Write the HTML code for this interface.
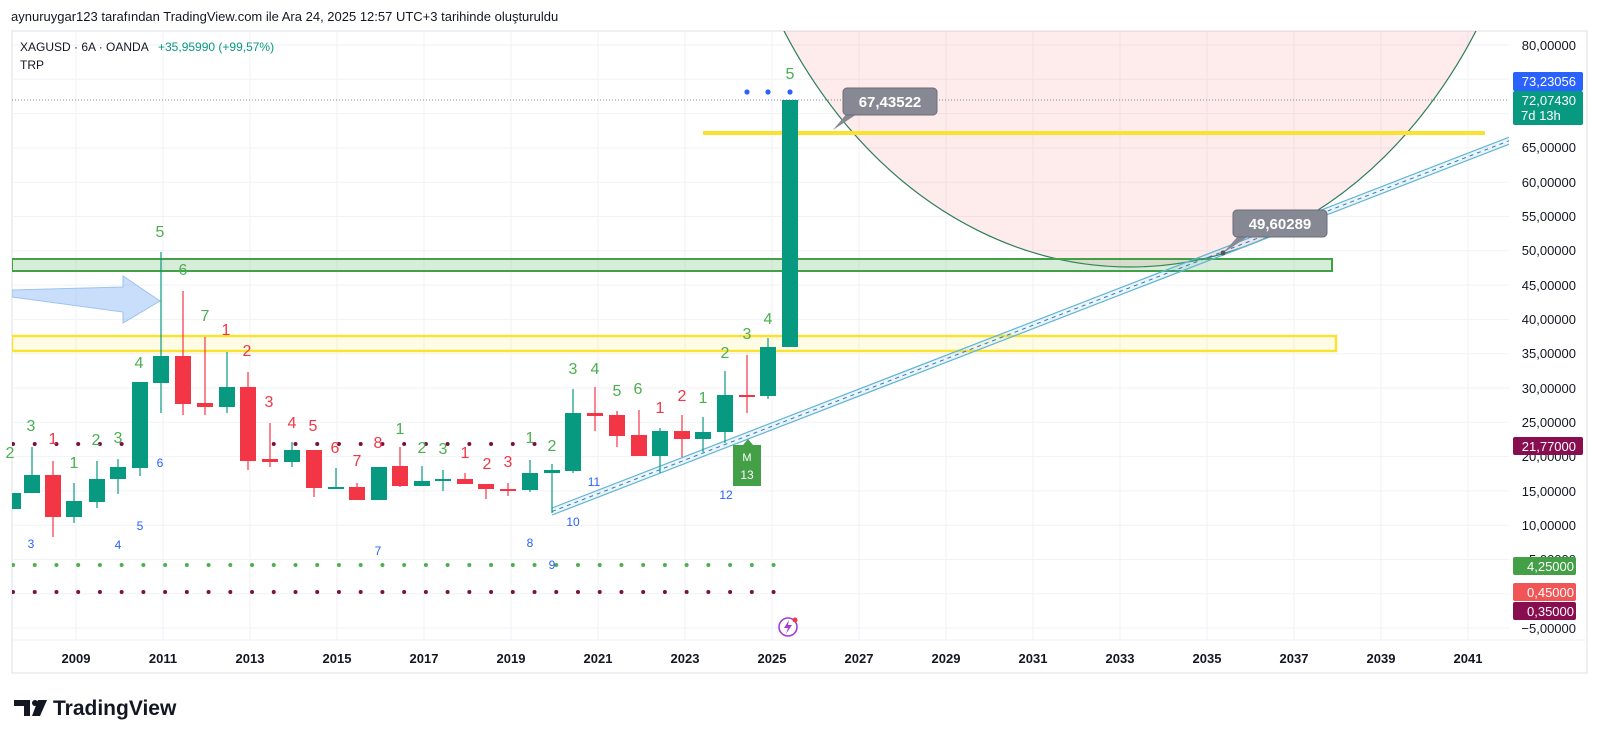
<!DOCTYPE html>
<html><head><meta charset="utf-8">
<style>
html,body{margin:0;padding:0;background:#fff;}
body{width:1600px;height:741px;overflow:hidden;font-family:"Liberation Sans",sans-serif;}
svg text{font-family:"Liberation Sans",sans-serif;}
</style></head><body>
<svg id="s" width="1600" height="741" viewBox="0 0 1600 741" xmlns="http://www.w3.org/2000/svg">
<defs>
<clipPath id="pc"><rect x="12" y="31" width="1497" height="609"/></clipPath>
</defs>
<rect x="0" y="0" width="1600" height="741" fill="#fff"/>
<text x="11" y="21" font-size="13" fill="#131722">aynuruygar123 tarafından TradingView.com ile Ara 24, 2025 12:57 UTC+3 tarihinde oluşturuldu</text>
<rect x="12" y="31" width="1575" height="642" fill="none" stroke="#e8eaef" stroke-width="1.5"/>
<g id="grid" stroke="#f0f2f6" stroke-width="1"></g>
<g clip-path="url(#pc)">
<!-- ellipse -->
<ellipse cx="1130" cy="-250" rx="412" ry="517" fill="rgba(242,54,69,0.1)" stroke="#2e7d5b" stroke-width="1.2"/>
<!-- green zone -->
<rect x="12" y="259" width="1320" height="12" fill="rgba(76,175,80,0.22)" stroke="#43a047" stroke-width="2"/>
<!-- yellow zone -->
<rect x="12" y="336" width="1324" height="15" fill="rgba(255,235,59,0.13)" stroke="#f9e231" stroke-width="2.5"/>
<line x1="703" y1="133" x2="1485" y2="133" stroke="#f9e231" stroke-width="4"/>
<!-- dotted price line -->
<line x1="12" y1="100" x2="1509" y2="100" stroke="#7d8a99" stroke-width="1" stroke-dasharray="1,2"/>
<!-- channel -->
<g>
<line x1="552" y1="508" x2="1520" y2="133" stroke="#5fb4d6" stroke-width="1.2"/>
<line x1="552" y1="515" x2="1520" y2="140" stroke="#5fb4d6" stroke-width="1.2"/>
<line x1="552" y1="511.5" x2="1520" y2="136.5" stroke="#2f6fbf" stroke-width="1" stroke-dasharray="4,4"/>
<polygon points="552,508 1520,133 1520,140 552,515" fill="rgba(95,180,214,0.12)"/>
</g>
<!-- arrow -->
<polygon points="12,290 123,287 123,276 160,301 123,323 123,312 12,297" fill="rgba(100,160,240,0.35)" stroke="#9cc3f0" stroke-width="1"/>
<g id="dots"></g>
<g id="candles"></g>
</g>
<!-- TD numbers green -->
<g font-size="16" fill="#4caf50" text-anchor="middle">
<text x="10" y="458">2</text>
<text x="31" y="431">3</text><text x="74" y="468">1</text><text x="96" y="445">2</text><text x="118" y="443">3</text>
<text x="139" y="368">4</text><text x="160" y="237">5</text><text x="183" y="275">6</text><text x="205" y="321">7</text>
<text x="400" y="434">1</text><text x="422" y="453">2</text><text x="443" y="454">3</text>
<text x="530" y="443">1</text><text x="552" y="451">2</text><text x="573" y="374">3</text><text x="595" y="374">4</text>
<text x="617" y="396">5</text><text x="638" y="394">6</text><text x="703" y="403">1</text><text x="725" y="358">2</text>
<text x="747" y="339">3</text><text x="768" y="324">4</text><text x="790" y="79">5</text>
</g>
<g font-size="16" fill="#f23645" text-anchor="middle">
<text x="53" y="444">1</text><text x="226" y="335">1</text><text x="247" y="356">2</text><text x="269" y="407">3</text>
<text x="292" y="428">4</text><text x="313" y="431">5</text><text x="335" y="453">6</text><text x="357" y="466">7</text>
<text x="378" y="448">8</text><text x="465" y="458">1</text><text x="487" y="469">2</text><text x="508" y="467">3</text>
<text x="660" y="413">1</text><text x="682" y="401">2</text>
</g>
<g font-size="12" fill="#2962ff" text-anchor="middle">
<text x="31" y="548">3</text><text x="118" y="549">4</text><text x="140" y="530">5</text><text x="160" y="467">6</text>
<text x="378" y="555">7</text><text x="530" y="547">8</text><text x="552" y="569">9</text><text x="573" y="526">10</text>
<text x="594" y="486">11</text><text x="726" y="499">12</text>
</g>
<!-- M13 -->
<polygon points="733,445 743,445 748,439 753,445 761,445 761,486 733,486" fill="#43a047"/>
<text x="747" y="461" font-size="11" fill="#fff" text-anchor="middle">M</text>
<text x="747" y="479" font-size="12" fill="#fff" text-anchor="middle">13</text>
<!-- blue dots -->
<circle cx="747" cy="92" r="2.6" fill="#2962ff"/><circle cx="768" cy="92" r="2.6" fill="#2962ff"/><circle cx="790" cy="92" r="2.6" fill="#2962ff"/>
<!-- callouts -->
<polygon points="833,130 848,112 860,112" fill="#868993"/>
<rect x="843" y="88" width="94" height="27" rx="4" fill="#868993" stroke="#6a6d78"/>
<text x="890" y="107" font-size="15" font-weight="bold" fill="#fff" text-anchor="middle">67,43522</text>
<polygon points="1223,253 1240,234 1252,234" fill="#868993"/>
<rect x="1233" y="210" width="94" height="27" rx="4" fill="#868993" stroke="#6a6d78"/>
<text x="1280" y="229" font-size="15" font-weight="bold" fill="#fff" text-anchor="middle">49,60289</text>
<circle cx="1223" cy="253" r="2.5" fill="#555"/>
<!-- legend -->
<text x="20" y="51" font-size="12" fill="#131722">XAGUSD · 6A · OANDA</text>
<text x="158" y="51" font-size="12" fill="#089981">+35,95990 (+99,57%)</text>
<text x="20" y="69" font-size="12" fill="#131722">TRP</text>
<!-- price axis -->
<g font-size="13" fill="#131722" text-anchor="end">
<text x="1576" y="50">80,00000</text>
<text x="1576" y="152">65,00000</text>
<text x="1576" y="187">60,00000</text>
<text x="1576" y="221">55,00000</text>
<text x="1576" y="255">50,00000</text>
<text x="1576" y="290">45,00000</text>
<text x="1576" y="324">40,00000</text>
<text x="1576" y="358">35,00000</text>
<text x="1576" y="393">30,00000</text>
<text x="1576" y="427">25,00000</text>
<text x="1576" y="461">20,00000</text>
<text x="1576" y="496">15,00000</text>
<text x="1576" y="530">10,00000</text>
<text x="1576" y="564">5,00000</text>
<text x="1576" y="633">−5,00000</text>
</g>
<rect x="1513" y="72" width="70" height="19" rx="2" fill="#2962ff"/>
<text x="1576" y="86" font-size="13" fill="#fff" text-anchor="end">73,23056</text>
<rect x="1513" y="91" width="70" height="34" rx="2" fill="#089981"/>
<text x="1576" y="105" font-size="13" fill="#fff" text-anchor="end">72,07430</text>
<text x="1521" y="120" font-size="13" fill="#fff">7d 13h</text>
<rect x="1513" y="437" width="70" height="18" rx="2" fill="#880e4f"/>
<text x="1576" y="451" font-size="13" fill="#fff" text-anchor="end">21,77000</text>
<rect x="1513" y="557" width="63" height="18" rx="2" fill="#43a047"/>
<text x="1574" y="571" font-size="13" fill="#fff" text-anchor="end">4,25000</text>
<rect x="1513" y="583" width="63" height="18" rx="2" fill="#f25555"/>
<text x="1574" y="597" font-size="13" fill="#fff" text-anchor="end">0,45000</text>
<rect x="1513" y="602" width="63" height="18" rx="2" fill="#880e4f"/>
<text x="1574" y="616" font-size="13" fill="#fff" text-anchor="end">0,35000</text>
<!-- time axis -->
<g font-size="13" fill="#131722" text-anchor="middle" font-weight="bold">
<text x="76" y="663">2009</text><text x="163" y="663">2011</text><text x="250" y="663">2013</text><text x="337" y="663">2015</text>
<text x="424" y="663">2017</text><text x="511" y="663">2019</text><text x="598" y="663">2021</text><text x="685" y="663">2023</text>
<text x="772" y="663">2025</text><text x="859" y="663">2027</text><text x="946" y="663">2029</text><text x="1033" y="663">2031</text>
<text x="1120" y="663">2033</text><text x="1207" y="663">2035</text><text x="1294" y="663">2037</text><text x="1381" y="663">2039</text>
<text x="1468" y="663">2041</text>
</g>
<!-- lightning icon -->
<circle cx="788" cy="627" r="9" fill="#fff" stroke="#a23fd6" stroke-width="1.6"/>
<path d="M789,620 L784,628 L788,628 L786,634 L792,625 L788,625 Z" fill="#a23fd6"/>
<circle cx="795" cy="620" r="2.5" fill="#f23645"/>
<!-- logo -->
<g fill="#131722">
<path d="M14,700 L30,700 L30,716 L24,716 L24,706 L14,706 Z"/>
<circle cx="35" cy="703" r="3"/>
<path d="M38,700 L47,700 L40,716 L32,716 Z"/>
</g>
<text x="53" y="715" font-size="21" font-weight="bold" fill="#131722">TradingView</text>
<script>
var NS="http://www.w3.org/2000/svg";
function el(p,t,a){var e=document.createElementNS(NS,t);for(var k in a)e.setAttribute(k,a[k]);p.appendChild(e);return e;}
var g=document.getElementById('grid');
for(var v=-5;v<=80;v+=5){var y=45+(80-v)*6.86;el(g,'line',{x1:12,x2:1509,y1:y,y2:y});}
for(var i=0;i<17;i++){var x=76+i*87;el(g,'line',{x1:x,x2:x,y1:31,y2:640});}
el(g,'line',{x1:12,x2:1587,y1:640,y2:640});
var C=[[13,493,509,493,509,1],[32,475,493,447,493,1],[53,475,517,461,537,0],[74,501,517,483,523,1],[97,479,502,461,508,1],[118,467,479,459,494,1],[140,382,468,382,476,1],[161,356,383,252,413,1],[183,356,404,291,415,0],[205,403,407,337,415,0],[227,387,407,352,413,1],[248,387,461,372,470,0],[270,459,462,423,467,0],[292,450,462,442,467,1],[314,450,488,450,497,0],[336,487,489,468,489,1],[357,487,500,483,500,0],[379,467,500,467,500,1],[400,466,486,447,487,0],[422,481,486,466,486,1],[443,479,481,470,491,1],[465,479,484,473,484,0],[486,484,489,484,499,0],[508,489,491,483,496,0],[530,473,490,460,492,1],[552,470,473,464,513,1],[573,413,471,389,473,1],[595,413,416,387,431,0],[617,415,436,411,447,0],[639,435,456,410,456,0],[660,431,456,428,473,1],[682,431,439,415,457,0],[703,432,439,417,452,1],[725,395,432,371,443,1],[747,395,397,355,413,0],[768,347,396,338,399,1],[790,100,347,100,347,1]];
var cg=document.getElementById('candles');
C.forEach(function(c){var col=c[5]?'#089981':'#f23645';
el(cg,'line',{x1:c[0],x2:c[0],y1:c[3],y2:c[4],stroke:col,'stroke-width':1.2});
el(cg,'rect',{x:c[0]-8,y:c[1],width:16,height:Math.max(c[2]-c[1],2),fill:col});});
var dg=document.getElementById('dots');
for(var x=13;x<=794;x+=21.73){
el(dg,'circle',{cx:x,cy:565,r:2,fill:'#4caf50'});
el(dg,'circle',{cx:x,cy:592,r:2,fill:'#7b1040'});
if(x<=540 && !(x>130&&x<260)) el(dg,'circle',{cx:x,cy:444,r:2,fill:'#7b1040'});}
</script>
</svg>
</body></html>
